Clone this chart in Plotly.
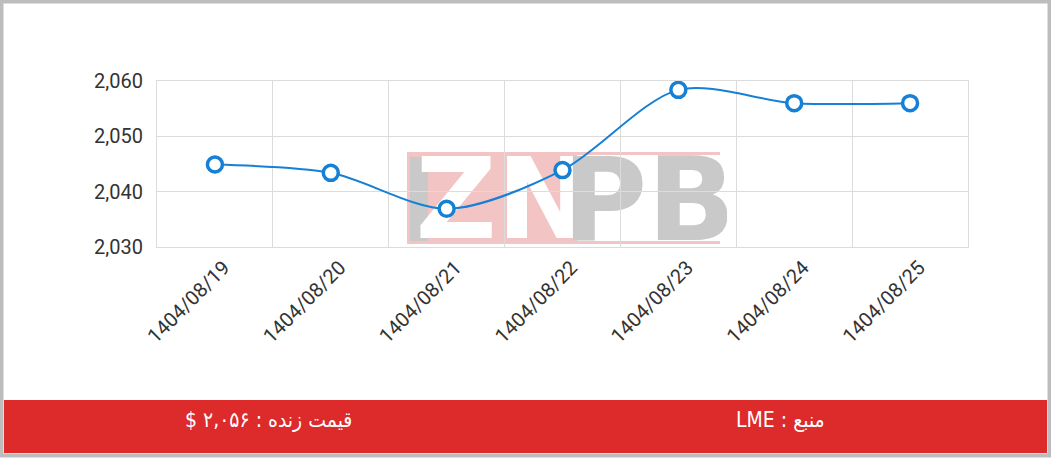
import base64
import plotly.graph_objects as go

# data
dates = ["1404/08/19", "1404/08/20", "1404/08/21", "1404/08/22",
         "1404/08/23", "1404/08/24", "1404/08/25"]
prices = [2044.9, 2043.4, 2036.9, 2043.9, 2058.4, 2056.0, 2056.0]
y_ticks = [2030, 2040, 2050, 2060]

source_text = "منبع : LME"
live_text = "قیمت زنده : ۲,۰۵۶ $"

# plot area in pixels (figure is 1051 x 458)
L, R, T, B = 157, 968, 81, 247
W, H = R - L, B - T


def px(x):
    return (x - L) / W


def py(y):
    return (B - y) / H


# watermark logo as an inline svg
logo_svg = """<svg xmlns='http://www.w3.org/2000/svg' width='320' height='96' viewBox='0 0 320 96'>
<rect x='0' y='0' width='168' height='92' fill='#f3c4c4'/>
<rect x='3' y='5' width='18' height='84' fill='#c9c9c9'/>
<text x='96' y='86' text-anchor='middle' font-family='DejaVu Sans' font-weight='bold' font-size='112' fill='#ffffff'>ZN</text>
<rect x='166' y='0' width='147' height='3' fill='#f3c4c4'/>
<rect x='166' y='89' width='147' height='3' fill='#f3c4c4'/>
<rect x='166' y='0' width='4' height='92' fill='#f3c4c4'/>
<text x='242' y='88' text-anchor='middle' font-family='DejaVu Sans' font-weight='bold' font-size='116' fill='#c9c9c9'>PB</text>
</svg>"""
logo_src = "data:image/svg+xml;base64," + base64.b64encode(logo_svg.encode("utf-8")).decode()

blue = "#1580d6"

trace = go.Scatter(
    x=dates,
    y=prices,
    mode="lines+markers",
    line=dict(color=blue, width=2, shape="spline", smoothing=0.85),
    marker=dict(size=15, color="white", line=dict(color=blue, width=3.5)),
    hoverinfo="x+y",
)

fig = go.Figure(data=trace)

fig.update_layout(
    width=1051,
    height=458,
    margin=dict(l=L, r=1051 - R, t=T, b=458 - B),
    paper_bgcolor="white",
    plot_bgcolor="rgba(0,0,0,0)",
    showlegend=False,
    font=dict(family="Roboto, Arial, sans-serif", size=20, color="#333333"),
    xaxis=dict(
        type="category",
        range=[-0.5, len(dates) - 0.5],
        tickson="boundaries",
        ticks="",
        tickangle=-45,
        ticklabelshift=9,
        showgrid=True,
        gridcolor="#dcdcdc",
        showline=True,
        linecolor="#dcdcdc",
        mirror=True,
        zeroline=False,
    ),
    yaxis=dict(
        range=[2030, 2060],
        tickvals=y_ticks,
        tickformat=",",
        ticks="",
        ticklabelstandoff=9,
        showgrid=True,
        gridcolor="#dcdcdc",
        showline=True,
        linecolor="#dcdcdc",
        mirror=True,
        zeroline=False,
    ),
    images=[dict(
        source=logo_src,
        xref="paper", yref="paper",
        x=px(407), y=py(152),
        sizex=px(727) - px(407), sizey=py(152) - py(248),
        xanchor="left", yanchor="top",
        sizing="stretch",
        layer="below",
        opacity=1,
    )],
    shapes=[
        # red footer band
        dict(type="rect", xref="paper", yref="paper",
             x0=px(4), x1=px(1047), y0=py(453), y1=py(400),
             fillcolor="#dd2a2a", line=dict(width=0), layer="below"),
        # grey frame
        dict(type="rect", xref="paper", yref="paper",
             x0=px(1.5), x1=px(1049.5), y0=py(455.5), y1=py(1.5),
             line=dict(color="#bdbdbd", width=4), fillcolor="rgba(0,0,0,0)"),
    ],
    annotations=[
        dict(text="\u202b" + source_text + "\u202c", xref="paper", yref="paper",
             x=px(780), y=py(420), xanchor="center", yanchor="middle",
             showarrow=False,
             font=dict(family="DejaVu Sans Condensed, DejaVu Sans", size=21, color="white")),
        dict(text="\u202b" + live_text + "\u202c", xref="paper", yref="paper",
             x=px(268), y=py(420), xanchor="center", yanchor="middle",
             showarrow=False,
             font=dict(family="DejaVu Sans Condensed, DejaVu Sans", size=21, color="white")),
    ],
)

# page body margin would shift the figure by 8px
fig.write_html("out.html", config={"displayModeBar": False},
               post_script="document.body.style.margin='0';")
